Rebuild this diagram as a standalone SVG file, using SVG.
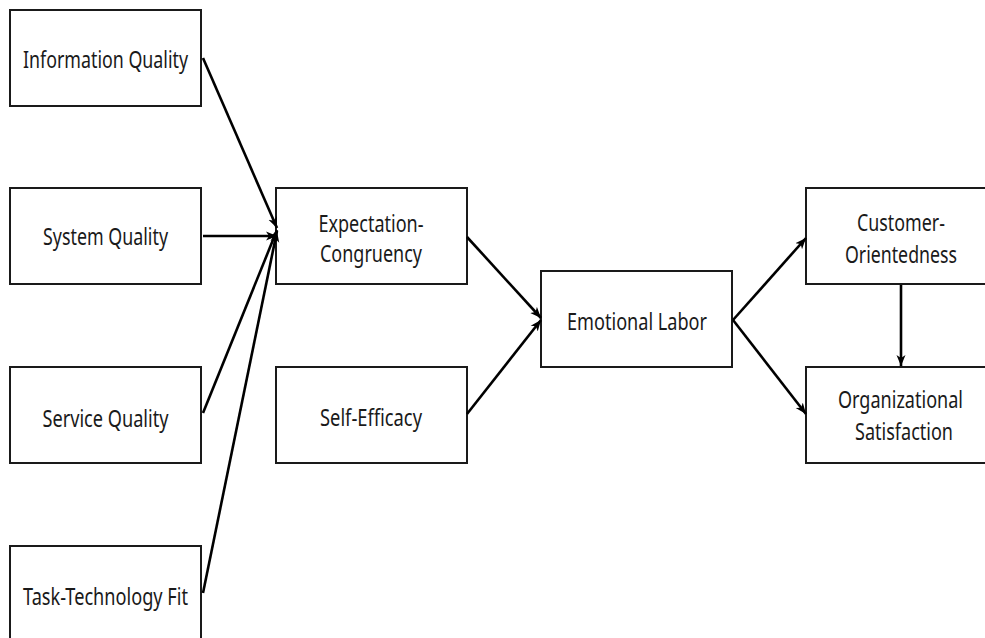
<svg xmlns="http://www.w3.org/2000/svg" width="985" height="638" viewBox="0 0 985 638">
<style>
.box{fill:#fff;stroke:#1a1a1a;stroke-width:2}
.t{font-family:"Noto Sans","Open Sans",sans-serif;font-size:23px;fill:#1a1a1a;text-anchor:middle}
.c{stroke:#000;stroke-width:2.6;fill:none;marker-end:url(#ah)}
</style>
<defs>
<marker id="ah" markerUnits="userSpaceOnUse" markerWidth="12" markerHeight="10" refX="11" refY="5" orient="auto">
<path d="M0,0.5 L11,5 L0,9.5 L3,5 z" fill="#000"/>
</marker>
</defs>
<rect width="985" height="638" fill="#fff"/>
<g id="info"><rect class="box" x="10" y="10" width="191" height="96"/><text class="t" x="105.5" y="68" textLength="165" lengthAdjust="spacingAndGlyphs">Information Quality</text></g>
<g id="system"><rect class="box" x="10" y="188" width="191" height="96"/><text class="t" x="105.5" y="245" textLength="125" lengthAdjust="spacingAndGlyphs">System Quality</text></g>
<g id="service"><rect class="box" x="10" y="367" width="191" height="96"/><text class="t" x="105.5" y="427" textLength="126" lengthAdjust="spacingAndGlyphs">Service Quality</text></g>
<g id="ttf"><rect class="box" x="10" y="546" width="191" height="100"/><text class="t" x="105.5" y="605" textLength="165" lengthAdjust="spacingAndGlyphs">Task-Technology Fit</text></g>
<g id="expect"><rect class="box" x="276" y="188" width="191" height="96"/><text class="t" x="371" y="232" textLength="105" lengthAdjust="spacingAndGlyphs">Expectation-</text><text class="t" x="371" y="262" textLength="102" lengthAdjust="spacingAndGlyphs">Congruency</text></g>
<g id="selfeff"><rect class="box" x="276" y="367" width="191" height="96"/><text class="t" x="371" y="426" textLength="102" lengthAdjust="spacingAndGlyphs">Self-Efficacy</text></g>
<g id="emotional"><rect class="box" x="541" y="271" width="191" height="96"/><text class="t" x="637" y="330" textLength="140" lengthAdjust="spacingAndGlyphs">Emotional Labor</text></g>
<g id="customer"><rect class="box" x="806" y="188" width="181" height="96"/><text class="t" x="901" y="231" textLength="88" lengthAdjust="spacingAndGlyphs">Customer-</text><text class="t" x="901" y="263" textLength="112" lengthAdjust="spacingAndGlyphs">Orientedness</text></g>
<g id="orgsat"><rect class="box" x="806" y="367" width="181" height="96"/><text class="t" x="900.5" y="408" textLength="125" lengthAdjust="spacingAndGlyphs">Organizational</text><text class="t" x="904" y="440" textLength="98" lengthAdjust="spacingAndGlyphs">Satisfaction</text></g>
<g id="connectors">
<line class="c" x1="203" y1="58" x2="277" y2="228"/>
<line class="c" x1="203" y1="236" x2="277" y2="236" stroke-width="4"/>
<line class="c" x1="203" y1="413" x2="277" y2="230"/>
<line class="c" x1="203" y1="593" x2="277" y2="231"/>
<line class="c" x1="467" y1="237" x2="541" y2="318"/>
<line class="c" x1="467" y1="414" x2="541" y2="320"/>
<line class="c" x1="733" y1="320" x2="806" y2="238"/>
<line class="c" x1="733" y1="320" x2="806" y2="414"/>
<line class="c" x1="901" y1="285" x2="901" y2="366"/>
</g>
</svg>
